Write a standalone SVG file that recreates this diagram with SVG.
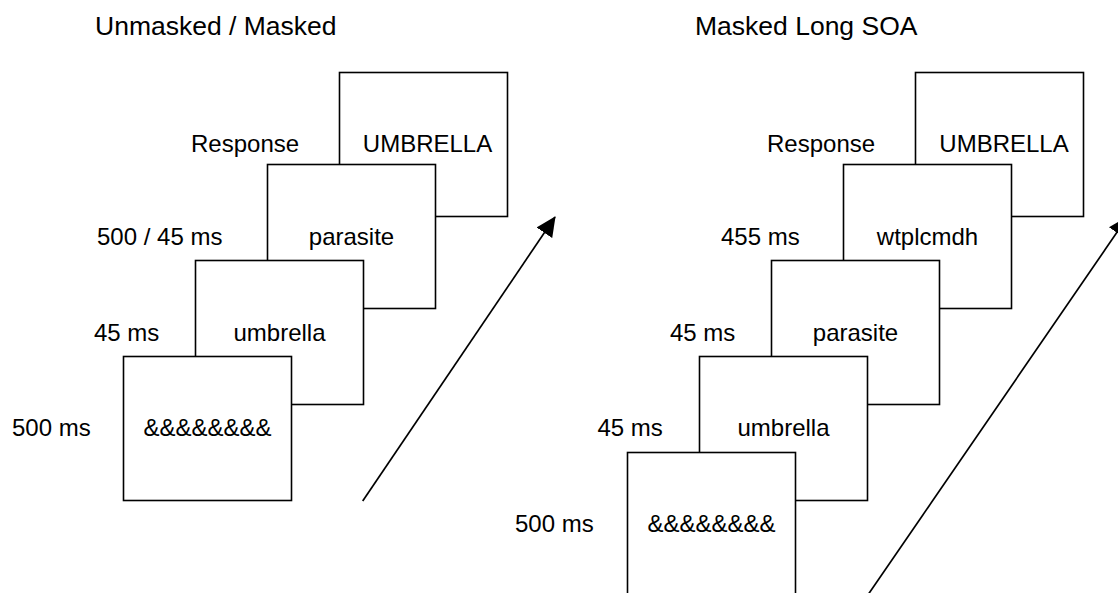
<svg xmlns="http://www.w3.org/2000/svg" width="1118" height="593" viewBox="0 0 1118 593">
<style>
  text { font-family: "Liberation Sans", Arial, sans-serif; fill: #000; }
  .title { font-size: 26.5px; }
  .lbl { font-size: 24px; }
  .in { font-size: 24px; text-anchor: middle; }
  .box { fill: #fff; stroke: #000; stroke-width: 1.6; }
  .conn { stroke: #000; stroke-width: 1.7; fill: none; }
</style>
<defs>
  <marker id="ah" markerUnits="userSpaceOnUse" viewBox="0 0 20 20" markerWidth="20" markerHeight="20" refX="19" refY="10" orient="auto">
    <path d="M0,0.5 L20,10 L0,19.5 Z" fill="#000"/>
  </marker>
</defs>
<rect width="1118" height="593" fill="#fff"/>

<text class="title" x="95" y="35">Unmasked / Masked</text>
<text class="title" x="695" y="35">Masked Long SOA</text>

<!-- Left panel -->
<g id="L-response">
  <rect class="box" x="339.5" y="72.5" width="168" height="144"/>
  <text class="lbl" x="191" y="152">Response</text>
  <text class="in" x="427.5" y="152">UMBRELLA</text>
</g>
<g id="L-target">
  <rect class="box" x="267.5" y="164.5" width="168" height="144"/>
  <text class="lbl" x="97" y="245">500 / 45 ms</text>
  <text class="in" x="351.5" y="245">parasite</text>
</g>
<g id="L-prime">
  <rect class="box" x="195.5" y="260.5" width="168" height="144"/>
  <text class="lbl" x="94" y="340.5">45 ms</text>
  <text class="in" x="279.5" y="340.5">umbrella</text>
</g>
<g id="L-mask">
  <rect class="box" x="123.5" y="356.5" width="168" height="144"/>
  <text class="lbl" x="12" y="436">500 ms</text>
  <text class="in" x="207.5" y="436">&amp;&amp;&amp;&amp;&amp;&amp;&amp;&amp;</text>
</g>

<!-- Right panel -->
<g id="R-response">
  <rect class="box" x="915.5" y="72.5" width="168" height="144"/>
  <text class="lbl" x="767" y="152">Response</text>
  <text class="in" x="1004" y="152">UMBRELLA</text>
</g>
<g id="R-postmask">
  <rect class="box" x="843.5" y="164.5" width="168" height="144"/>
  <text class="lbl" x="721" y="245">455 ms</text>
  <text class="in" x="927.5" y="245">wtplcmdh</text>
</g>
<g id="R-target">
  <rect class="box" x="771.5" y="260.5" width="168" height="144"/>
  <text class="lbl" x="670" y="340.5">45 ms</text>
  <text class="in" x="855.5" y="340.5">parasite</text>
</g>
<g id="R-prime">
  <rect class="box" x="699.5" y="356.5" width="168" height="144"/>
  <text class="lbl" x="597.5" y="436">45 ms</text>
  <text class="in" x="783.5" y="436">umbrella</text>
</g>
<g id="R-mask">
  <rect class="box" x="627.5" y="452.5" width="168" height="144"/>
  <text class="lbl" x="515" y="532">500 ms</text>
  <text class="in" x="711.5" y="532">&amp;&amp;&amp;&amp;&amp;&amp;&amp;&amp;</text>
</g>

<g id="connectors">
  <line class="conn" x1="362.7" y1="501" x2="555" y2="217" marker-end="url(#ah)"/>
  <line class="conn" x1="861" y1="605" x2="1127.5" y2="217" marker-end="url(#ah)"/>
</g>
</svg>
